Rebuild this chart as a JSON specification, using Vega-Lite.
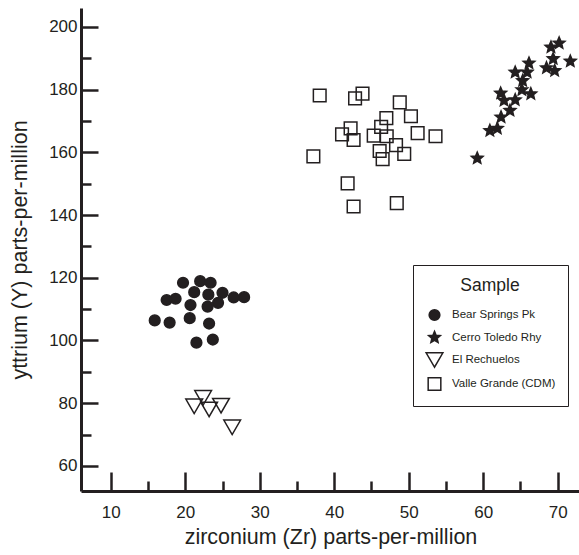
{
  "$schema": "https://vega.github.io/schema/vega-lite/v6.json",
  "width": 499,
  "height": 483,
  "autosize": {"type": "none"},
  "padding": {"left": 81, "top": 8, "right": 0, "bottom": 64},
  "background": "white",
  "config": {"view": {"stroke": null}, "font": "Liberation Sans"},
  "data": {
    "values": [
      {"Sample": "Bear Springs Pk", "Zr": 19.7, "Y": 118.4},
      {"Sample": "Bear Springs Pk", "Zr": 22.0, "Y": 118.9},
      {"Sample": "Bear Springs Pk", "Zr": 23.4, "Y": 118.4},
      {"Sample": "Bear Springs Pk", "Zr": 21.2, "Y": 115.4},
      {"Sample": "Bear Springs Pk", "Zr": 17.5, "Y": 112.9},
      {"Sample": "Bear Springs Pk", "Zr": 18.7, "Y": 113.3},
      {"Sample": "Bear Springs Pk", "Zr": 23.1, "Y": 114.6},
      {"Sample": "Bear Springs Pk", "Zr": 25.0, "Y": 115.2},
      {"Sample": "Bear Springs Pk", "Zr": 26.5, "Y": 113.7},
      {"Sample": "Bear Springs Pk", "Zr": 27.9, "Y": 113.8},
      {"Sample": "Bear Springs Pk", "Zr": 24.4, "Y": 112.0},
      {"Sample": "Bear Springs Pk", "Zr": 20.7, "Y": 111.3},
      {"Sample": "Bear Springs Pk", "Zr": 23.0, "Y": 110.8},
      {"Sample": "Bear Springs Pk", "Zr": 15.9, "Y": 106.4},
      {"Sample": "Bear Springs Pk", "Zr": 17.9, "Y": 105.7},
      {"Sample": "Bear Springs Pk", "Zr": 20.6, "Y": 107.1},
      {"Sample": "Bear Springs Pk", "Zr": 23.2, "Y": 105.4},
      {"Sample": "Bear Springs Pk", "Zr": 21.5, "Y": 99.3},
      {"Sample": "Bear Springs Pk", "Zr": 23.7, "Y": 100.3},
      {"Sample": "El Rechuelos", "Zr": 22.4, "Y": 81.7},
      {"Sample": "El Rechuelos", "Zr": 21.2, "Y": 79.0},
      {"Sample": "El Rechuelos", "Zr": 23.2, "Y": 78.0},
      {"Sample": "El Rechuelos", "Zr": 24.8, "Y": 79.2},
      {"Sample": "El Rechuelos", "Zr": 26.3, "Y": 72.3},
      {"Sample": "Valle Grande (CDM)", "Zr": 38.05, "Y": 178.1},
      {"Sample": "Valle Grande (CDM)", "Zr": 43.8, "Y": 178.7},
      {"Sample": "Valle Grande (CDM)", "Zr": 42.8, "Y": 177.2},
      {"Sample": "Valle Grande (CDM)", "Zr": 48.8, "Y": 175.9},
      {"Sample": "Valle Grande (CDM)", "Zr": 47.0, "Y": 170.9},
      {"Sample": "Valle Grande (CDM)", "Zr": 50.3, "Y": 171.5},
      {"Sample": "Valle Grande (CDM)", "Zr": 41.05, "Y": 165.7},
      {"Sample": "Valle Grande (CDM)", "Zr": 42.2, "Y": 167.6},
      {"Sample": "Valle Grande (CDM)", "Zr": 42.6, "Y": 163.9},
      {"Sample": "Valle Grande (CDM)", "Zr": 46.3, "Y": 168.1},
      {"Sample": "Valle Grande (CDM)", "Zr": 45.3, "Y": 165.3},
      {"Sample": "Valle Grande (CDM)", "Zr": 47.05, "Y": 165.1},
      {"Sample": "Valle Grande (CDM)", "Zr": 51.2, "Y": 166.1},
      {"Sample": "Valle Grande (CDM)", "Zr": 53.6, "Y": 165.1},
      {"Sample": "Valle Grande (CDM)", "Zr": 48.3, "Y": 162.3},
      {"Sample": "Valle Grande (CDM)", "Zr": 49.4, "Y": 159.5},
      {"Sample": "Valle Grande (CDM)", "Zr": 46.1, "Y": 160.4},
      {"Sample": "Valle Grande (CDM)", "Zr": 46.5, "Y": 157.8},
      {"Sample": "Valle Grande (CDM)", "Zr": 37.2, "Y": 158.7},
      {"Sample": "Valle Grande (CDM)", "Zr": 41.8, "Y": 150.1},
      {"Sample": "Valle Grande (CDM)", "Zr": 42.6, "Y": 142.7},
      {"Sample": "Valle Grande (CDM)", "Zr": 48.4, "Y": 143.8},
      {"Sample": "Cerro Toledo Rhy", "Zr": 70.2, "Y": 194.8},
      {"Sample": "Cerro Toledo Rhy", "Zr": 69.1, "Y": 193.5},
      {"Sample": "Cerro Toledo Rhy", "Zr": 71.7, "Y": 189.0},
      {"Sample": "Cerro Toledo Rhy", "Zr": 69.4, "Y": 189.8},
      {"Sample": "Cerro Toledo Rhy", "Zr": 68.5, "Y": 186.9},
      {"Sample": "Cerro Toledo Rhy", "Zr": 69.6, "Y": 186.0},
      {"Sample": "Cerro Toledo Rhy", "Zr": 66.15, "Y": 188.4},
      {"Sample": "Cerro Toledo Rhy", "Zr": 64.3, "Y": 185.5},
      {"Sample": "Cerro Toledo Rhy", "Zr": 65.9, "Y": 185.5},
      {"Sample": "Cerro Toledo Rhy", "Zr": 65.3, "Y": 182.8},
      {"Sample": "Cerro Toledo Rhy", "Zr": 65.2, "Y": 179.9},
      {"Sample": "Cerro Toledo Rhy", "Zr": 66.4, "Y": 178.6},
      {"Sample": "Cerro Toledo Rhy", "Zr": 62.35, "Y": 178.8},
      {"Sample": "Cerro Toledo Rhy", "Zr": 62.8, "Y": 176.5},
      {"Sample": "Cerro Toledo Rhy", "Zr": 64.3, "Y": 176.7},
      {"Sample": "Cerro Toledo Rhy", "Zr": 63.6, "Y": 173.3},
      {"Sample": "Cerro Toledo Rhy", "Zr": 62.4, "Y": 171.2},
      {"Sample": "Cerro Toledo Rhy", "Zr": 61.9, "Y": 167.6},
      {"Sample": "Cerro Toledo Rhy", "Zr": 60.9, "Y": 166.9},
      {"Sample": "Cerro Toledo Rhy", "Zr": 59.2, "Y": 158.1}
    ]
  },
  "mark": {"type": "point", "opacity": 1, "stroke": "#231f20", "strokeWidth": 1.5},
  "encoding": {
    "x": {
      "field": "Zr",
      "type": "quantitative",
      "scale": {"domain": [6, 73], "nice": false, "zero": false},
      "axis": {
        "title": "zirconium (Zr) parts-per-million",
        "values": [10, 15, 20, 25, 30, 35, 40, 45, 50, 55, 60, 65, 70],
        "grid": false,
        "domainColor": "#231f20",
        "domainWidth": 3,
        "tickColor": "#231f20",
        "tickWidth": 2.5,
        "tickSize": {"condition": {"test": "datum.value % 10 === 0", "value": -19}, "value": -10},
        "labelExpr": "datum.value % 10 === 0 ? datum.label : ''",
        "labelFontSize": 17,
        "labelColor": "#231f20",
        "labelPadding": 32,
        "labelFlush": false,
        "labelOverlap": false,
        "titleFontSize": 21.5,
        "titleFontWeight": "normal",
        "titleColor": "#231f20",
        "titlePadding": -3
      }
    },
    "y": {
      "field": "Y",
      "type": "quantitative",
      "scale": {"domain": [52, 206], "nice": false, "zero": false},
      "axis": {
        "title": "yttrium (Y) parts-per-million",
        "values": [60, 70, 80, 90, 100, 110, 120, 130, 140, 150, 160, 170, 180, 190, 200],
        "grid": false,
        "domainColor": "#231f20",
        "domainWidth": 3,
        "tickColor": "#231f20",
        "tickWidth": 2.5,
        "tickSize": {"condition": {"test": "datum.value % 20 === 0", "value": -17}, "value": -10},
        "labelExpr": "datum.value % 20 === 0 ? datum.label : ''",
        "labelFontSize": 17,
        "labelColor": "#231f20",
        "labelPadding": 21,
        "labelFlush": false,
        "labelOverlap": false,
        "titleFontSize": 21.5,
        "titleFontWeight": "normal",
        "titleColor": "#231f20",
        "titlePadding": 17
      }
    },
    "shape": {
      "field": "Sample",
      "type": "nominal",
      "scale": {
        "domain": ["Bear Springs Pk", "Cerro Toledo Rhy", "El Rechuelos", "Valle Grande (CDM)"],
        "range": ["circle", "M0,-1L0.265,-0.364L0.951,-0.309L0.428,0.139L0.588,0.809L0,0.45L-0.588,0.809L-0.428,0.139L-0.951,-0.309L-0.265,-0.364Z", "triangle-down", "square"]
      },
      "legend": {
        "title": "Sample",
        "orient": "none",
        "legendX": 332,
        "legendY": 257,
        "fillColor": "white",
        "strokeColor": "#231f20",
        "padding": 12,
        "titleFontSize": 17.5,
        "titleFontWeight": "normal",
        "titleColor": "#231f20",
        "titleAnchor": "middle",
        "titlePadding": 14,
        "labelFontSize": 11.5,
        "labelColor": "#231f20",
        "labelOffset": 8,
        "rowPadding": 4,
        "symbolStrokeColor": "#231f20",
        "symbolStrokeWidth": 1.5
      }
    },
    "fill": {
      "field": "Sample",
      "type": "nominal",
      "scale": {
        "domain": ["Bear Springs Pk", "Cerro Toledo Rhy", "El Rechuelos", "Valle Grande (CDM)"],
        "range": ["#231f20", "#231f20", "transparent", "transparent"]
      }
    },
    "size": {
      "field": "Sample",
      "type": "nominal",
      "scale": {
        "type": "ordinal",
        "domain": ["Bear Springs Pk", "Cerro Toledo Rhy", "El Rechuelos", "Valle Grande (CDM)"],
        "range": [115, 150, 280, 160]
      }
    }
  }
}
